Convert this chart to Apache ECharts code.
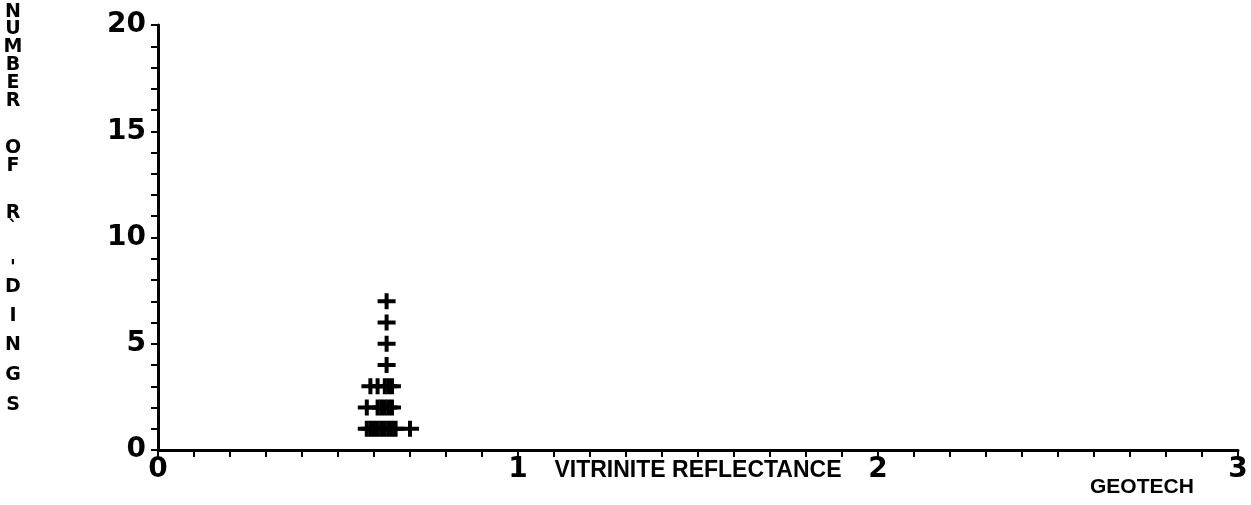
<!DOCTYPE html>
<html>
<head>
<meta charset="utf-8">
<script src="https://cdn.jsdelivr.net/npm/echarts@6/dist/echarts.min.js"></script>
<style>
html,body{margin:0;padding:0;background:#fff;}
#chart{width:1251px;height:505px;}
</style>
</head>
<body>
<div id="chart"></div>
<script>
// Each reading: vitrinite reflectance value (x) and its stacked reading number (y)
const reflectance = [0.58,0.59,0.60,0.61,0.62,0.63,0.64,0.65,0.66,0.70,
                     0.58,0.61,0.62,0.63,0.64,0.65,
                     0.59,0.61,0.63,0.64,0.65,
                     0.635,0.635,0.635,0.635];
const readingNo   = [1,1,1,1,1,1,1,1,1,1,
                     2,2,2,2,2,2,
                     3,3,3,3,3,
                     4,5,6,7];
const xTickLabels = ['0','1','2','3'];
const yTickLabels = ['0','5','10','15','20'];
const yTitleChars = ['N','U','M','B','E','R','O','F','R','`','\'','D','I','N','G','S'];
const yTitlePos   = [12,29,47,65,83,101,148,166,213,229,268,287,316,345,375,405];

const points = reflectance.map((x,i)=>[x, readingNo[i]]);

const chart = echarts.init(document.getElementById('chart'), null, {renderer:'canvas', width:1251, height:505});
const numFont = {fontFamily:'DejaVu Sans', fontWeight:'bold', fontSize:28, color:'#000'};

chart.setOption({
  animation:false,
  backgroundColor:'#fff',
  grid:{left:158,width:1080,top:25,height:425,containLabel:false},
  xAxis:{
    type:'value',min:0,max:3,interval:1,
    axisLine:{lineStyle:{color:'#000',width:3}},
    axisTick:{show:true,inside:false,length:7,lineStyle:{color:'#000',width:2}},
    minorTick:{show:true,splitNumber:10,length:7,lineStyle:{color:'#000',width:2}},
    splitLine:{show:false},
    axisLabel:Object.assign({margin:6,formatter:(v)=>xTickLabels[Math.round(v)]},numFont),
    name:'VITRINITE REFLECTANCE',nameLocation:'middle',nameGap:21,nameMoveOverlap:false,
    nameTextStyle:{fontFamily:'Liberation Sans',fontWeight:'bold',fontSize:23,color:'#000',verticalAlign:'middle'}
  },
  yAxis:{
    type:'value',min:0,max:20,interval:5,
    axisLine:{lineStyle:{color:'#000',width:3}},
    axisTick:{show:true,inside:false,length:7,lineStyle:{color:'#000',width:2}},
    minorTick:{show:true,splitNumber:5,length:7,lineStyle:{color:'#000',width:2}},
    splitLine:{show:false},
    axisLabel:Object.assign({margin:12,formatter:(v)=>yTickLabels[Math.round(v/5)]},numFont)
  },
  series:[{
    type:'scatter',
    data:points,
    symbol:'path://M0,6H7V0H11V6H18V10H11V16H7V10H0Z',
    symbolSize:[18,16],
    itemStyle:{color:'#000',opacity:1},
    z:5
  }],
  graphic:[
    {type:'text',left:1090,top:477,style:{text:'GEOTECH',fill:'#000',font:'bold 21px "Liberation Sans"'}}
  ].concat(yTitleChars.map((c,i)=>({
    type:'text',x:13,y:yTitlePos[i],
    style:{text:c,fill:'#000',font:'bold 19px "DejaVu Sans"',align:'center',verticalAlign:'middle'}
  })))
});
</script>
</body>
</html>
